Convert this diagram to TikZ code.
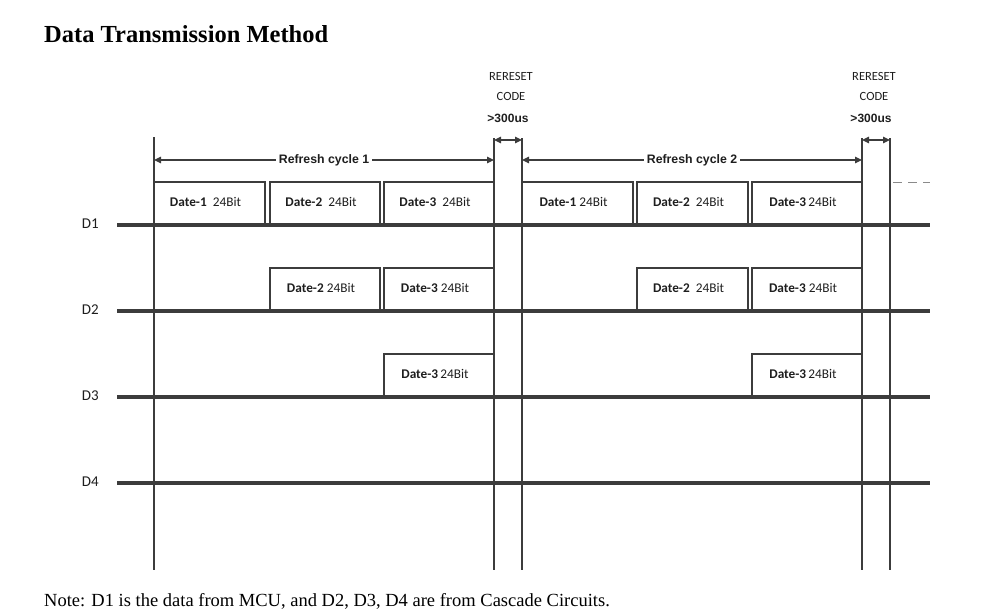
\documentclass[tikz,border=0pt]{standalone}
\usepackage{fontspec}
\setmainfont{Liberation Serif}
\newfontfamily\labfont{Carlito}
\newfontfamily\arlfont{Liberation Sans}
\usetikzlibrary{arrows.meta}
\definecolor{ln}{HTML}{3C3C3C}
\definecolor{tx}{HTML}{1E1E1E}
\begin{document}
\begin{tikzpicture}[x=1pt,y=-1pt,
  sig/.style={line width=3.6pt, draw=ln},
  boxedge/.style={line width=1.6pt, draw=ln},
  vline/.style={line width=1.6pt, draw=ln},
  dimarrow/.style={line width=1.1pt, draw=ln, {Triangle[length=7pt,width=6.5pt]}-{Triangle[length=7pt,width=6.5pt]}},
  datalab/.style={font=\labfont\fontsize{13.3}{15}\selectfont, text=tx, inner sep=0pt},
  chlab/.style={font=\labfont\fontsize{15}{17}\selectfont, text=tx, anchor=east, inner sep=0pt},
  cyclab/.style={font=\arlfont\bfseries\fontsize{12.3}{14}\selectfont, text=tx, fill=white, inner sep=3pt},
  rstlab/.style={font=\labfont\fontsize{12.5}{14}\selectfont, text=tx, inner sep=0pt},
  rstbold/.style={font=\arlfont\bfseries\fontsize{12}{14}\selectfont, text=tx, inner sep=0pt}]
\useasboundingbox (0,0) rectangle (1000,614);

% title and note
\node[anchor=base west, inner sep=0pt, font=\bfseries\fontsize{24.5}{28}\selectfont] (title) at (44,42) {Data Transmission Method};
\node[anchor=base west, inner sep=0pt, font=\fontsize{18.5}{20}\selectfont] (note) at (44,606) {Note: D1 is the data from MCU, and D2, D3, D4 are from Cascade Circuits.};

% channel lines
\foreach \n/\y in {1/225,2/311,3/397,4/483}{
  \coordinate (s\n) at (117,\y);
  \coordinate (e\n) at (930,\y);
  \draw[sig] (s\n) -- (e\n);
  \node[chlab] (lab\n) at (99,\y-1) {D\n};
}

% vertical timing lines
\foreach \n/\x/\t in {v0/154/137,va/494/138,vb/522/138,vc/862/138,vd/890/138}{
  \coordinate (\n top) at (\x,\t);
  \coordinate (\n bot) at (\x,570);
  \draw[vline] (\n top) -- (\n bot);
}

% data boxes: name / left / right / top / base / label
\foreach \nm/\l/\r/\t/\b/\txt in {
  a1/154/265/182/225/{\textbf{Date-1}\ \ 24Bit},
  a2/270/380/182/225/{\textbf{Date-2}\ \ 24Bit},
  a3/384/494/182/225/{\textbf{Date-3}\ \ 24Bit},
  a4/522/633/182/225/{\textbf{Date-1}\ 24Bit},
  a5/637/748/182/225/{\textbf{Date-2}\ \ 24Bit},
  a6/752/862/182/225/{\textbf{Date-3}\,24Bit},
  b2/270/380/268/311/{\textbf{Date-2}\ 24Bit},
  b3/384/494/268/311/{\textbf{Date-3}\ 24Bit},
  b5/637/748/268/311/{\textbf{Date-2}\ \ 24Bit},
  b6/752/862/268/311/{\textbf{Date-3}\ 24Bit},
  c3/384/494/354/397/{\textbf{Date-3}\,24Bit},
  c6/752/862/354/397/{\textbf{Date-3}\,24Bit}}{
  \draw[boxedge] (\l,\b) -- (\l,\t) -- (\r,\t) -- (\r,\b);
  \node[datalab] (\nm) at ({(\l+\r)/2-4},{(\t+\b)/2-2}) {\txt};
}

% refresh cycle arrows
\draw[dimarrow] (v0top |- 0,160) -- node[cyclab] (rc1) {Refresh cycle 1} (vatop |- 0,160);
\draw[dimarrow] (vbtop |- 0,160) -- node[cyclab] (rc2) {Refresh cycle 2} (vctop |- 0,160);

% reset code arrows and labels
\draw[dimarrow] (vatop |- 0,140) -- (vbtop |- 0,140);
\draw[dimarrow] (vctop |- 0,140) -- (vdtop |- 0,140);
\foreach \nm/\x in {r1/511,r2/874}{
  \node[rstlab] (\nm a) at (\x,76) {RERESET};
  \node[rstlab] (\nm b) at (\x,96) {CODE};
  \node[rstbold] (\nm c) at (\x-3,118) {>300us};
}

% continuation dashes
\coordinate (dashs) at (893,182);
\coordinate (dashe) at (930,182);
\draw[line width=1pt, draw=ln!60, dash pattern=on 9pt off 6pt] (dashs) -- (dashe);
\end{tikzpicture}
\end{document}
